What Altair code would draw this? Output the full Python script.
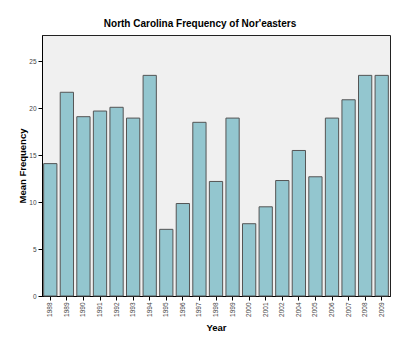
import altair as alt
import pandas as pd

years = ["1988", "1989", "1990", "1991", "1992", "1993", "1994", "1995", "1996", "1997",
         "1998", "1999", "2000", "2001", "2002", "2004", "2005", "2006", "2007", "2008", "2009"]
mean_freq = [14.1, 21.7, 19.1, 19.7, 20.1, 18.95, 23.5, 7.1, 9.85, 18.5,
             12.2, 18.95, 7.7, 9.5, 12.3, 15.5, 12.7, 18.95, 20.9, 23.5, 23.5]

df = pd.DataFrame({"Year": years, "Mean Frequency": mean_freq})

chart = alt.Chart(df).mark_bar(
    color="#93c6cf", stroke="#555555", strokeWidth=1
).encode(
    x=alt.X("Year:N", sort=years,
            scale=alt.Scale(paddingInner=0.2, paddingOuter=0.1),
            axis=alt.Axis(title="Year", labelAngle=270, labelFontSize=6.5,
                          labelColor="#444444", labelFont="Liberation Sans",
                          titleFont="Liberation Sans", titleFontSize=9.5,
                          titleFontWeight="bold", titleColor="#000000",
                          titlePadding=6, tickSize=4, tickColor="#000000",
                          domainColor="#000000", labelPadding=2)),
    y=alt.Y("Mean Frequency:Q", scale=alt.Scale(domain=[0, 27.8], nice=False),
            axis=alt.Axis(title="Mean Frequency", values=[0, 5, 10, 15, 20, 25],
                          labelFontSize=6.5, labelColor="#444444",
                          labelFont="Liberation Sans", titleFont="Liberation Sans",
                          titleFontSize=9.5, titleFontWeight="bold",
                          titleColor="#000000", titleX=-15, tickSize=4,
                          tickColor="#000000", domainColor="#000000",
                          grid=False, labelPadding=2))
).properties(
    width=348, height=261,
    autosize=alt.AutoSizeParams(type="none"),
    padding={"left": 42, "top": 35, "right": 10, "bottom": 51},
    title=alt.TitleParams("North Carolina Frequency of Nor'easters",
                          font="Liberation Sans", fontSize=10, fontWeight="bold",
                          color="#000000", offset=6, anchor="middle", dx=-16),
    background="#ffffff"
).configure_view(
    fill="#f0f0f0", stroke="#222222", strokeWidth=1
)

chart.save("out.html", embed_options={"renderer": "svg", "actions": False})
